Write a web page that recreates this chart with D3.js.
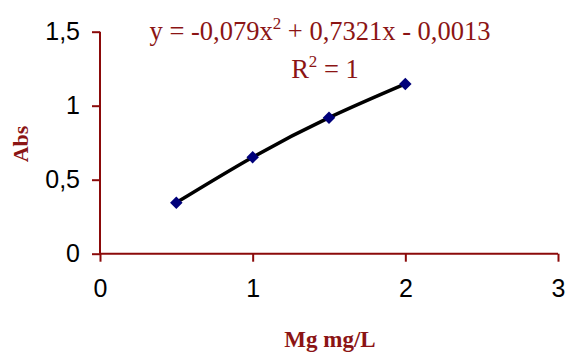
<!DOCTYPE html>
<html>
<head>
<meta charset="utf-8">
<script src="https://cdn.jsdelivr.net/npm/d3@7"></script>
<style>
  html, body { margin: 0; padding: 0; background: #fff; }
  svg { display: block; }
</style>
</head>
<body>
<svg id="chart" width="566" height="352"></svg>
<script>
// Calibration points: Mg concentration (mg/L) vs absorbance
const concentrations = [0.5, 1, 1.5, 2];
const absorbances = [0.345, 0.652, 0.919, 1.147];
const xTicks = [0, 1, 2, 3];
const yTicks = [0, 0.5, 1, 1.5];
const equationParts = ["y = -0,079x", "2", " + 0,7321x - 0,0013"];
const r2Parts = ["R", "2", " = 1"];
const xTitle = "Mg mg/L";
const yTitle = "Abs";

const axisColor = "#8b0a0a";
const textRed = "#8b1414";
const comma = d => String(d).replace(".", ",");

const svg = d3.select("#chart");
const x = d3.scaleLinear().domain([0, 3]).range([100, 558]);
const y = d3.scaleLinear().domain([0, 1.5]).range([253.7, 31.7]);

// Axes
const xAxis = svg.append("g").attr("transform", `translate(0,${y(0)})`)
  .call(d3.axisBottom(x).tickValues(xTicks).tickSize(8).tickFormat(comma));
const yAxis = svg.append("g").attr("transform", `translate(${x(0)},0)`)
  .call(d3.axisLeft(y).tickValues(yTicks).tickSize(8).tickFormat(comma));

[xAxis, yAxis].forEach(g => {
  g.select(".domain").attr("stroke", axisColor).attr("stroke-width", 2);
  g.selectAll(".tick line").attr("stroke", axisColor).attr("stroke-width", 2);
  g.selectAll(".tick text").attr("fill", "#000")
    .style("font-family", "Liberation Sans, Arial, sans-serif")
    .style("font-size", "25px");
});
// Plain axis lines without end caps
xAxis.select(".domain").attr("d", `M${x(0)},0H${x(3)}`);
yAxis.select(".domain").attr("d", `M0,${y(0)}V${y(1.5)}`);
xAxis.selectAll(".tick text").attr("y", 26).attr("dy", "0.71em");
yAxis.selectAll(".tick text").attr("x", -20);

// Trend line through the calibration points
const pts = concentrations.map((c, i) => [c, absorbances[i]]);
svg.append("path")
  .datum(pts)
  .attr("fill", "none")
  .attr("stroke", "#000")
  .attr("stroke-width", 3.5)
  .attr("stroke-linejoin", "round")
  .attr("d", d3.line().x(d => x(d[0])).y(d => y(d[1])).curve(d3.curveNatural));

// Markers
svg.selectAll(".pt").data(pts).join("path")
  .attr("class", "pt")
  .attr("transform", d => `translate(${x(d[0])},${y(d[1])}) rotate(45)`)
  .attr("d", d3.symbol(d3.symbolSquare, 78)())
  .attr("fill", "#00007a");

// Equation and R²
function supText(parts, cx, baseline) {
  const t = svg.append("text")
    .attr("x", cx).attr("y", baseline)
    .attr("text-anchor", "middle")
    .attr("fill", textRed)
    .style("font-family", "Liberation Serif, 'Times New Roman', serif")
    .style("font-size", "26.5px");
  t.append("tspan").text(parts[0]);
  t.append("tspan").attr("dy", -11).style("font-size", "17px").text(parts[1]);
  t.append("tspan").attr("dy", 11).text(parts[2]);
}
supText(equationParts, 320, 39.5);
supText(r2Parts, 325, 78);

// Axis titles
svg.append("text")
  .attr("x", 330).attr("y", 347)
  .attr("text-anchor", "middle")
  .attr("fill", textRed)
  .style("font-family", "Liberation Serif, 'Times New Roman', serif")
  .style("font-weight", "bold")
  .style("font-size", "23px")
  .text(xTitle);

svg.append("text")
  .attr("transform", "translate(28,144) rotate(-90)")
  .attr("text-anchor", "middle")
  .attr("fill", textRed)
  .style("font-family", "Liberation Serif, 'Times New Roman', serif")
  .style("font-weight", "bold")
  .style("font-size", "22px")
  .text(yTitle);
</script>
</body>
</html>
